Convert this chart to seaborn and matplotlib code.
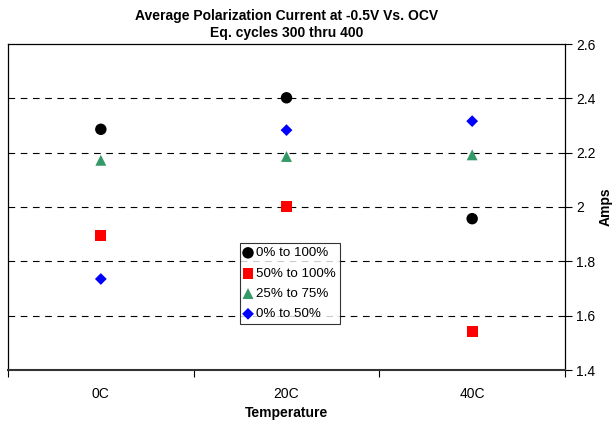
import matplotlib
matplotlib.use("Agg")
import matplotlib.pyplot as plt
import seaborn as sns
import pandas as pd
from matplotlib.ticker import FixedLocator, NullFormatter

# Average polarization current by temperature, per depth-of-discharge range
temperatures = ["0C", "20C", "40C"]
series_names = ["0% to 100%", "50% to 100%", "25% to 75%", "0% to 50%"]
amps_0_100 = [2.286, 2.402, 1.957]
amps_50_100 = [1.896, 2.002, 1.542]
amps_25_75 = [2.172, 2.186, 2.192]
amps_0_50 = [1.735, 2.283, 2.316]

series_values = [amps_0_100, amps_50_100, amps_25_75, amps_0_50]
df = pd.DataFrame(
    [(t, name, v)
     for name, vals in zip(series_names, series_values)
     for t, v in zip(temperatures, vals)],
    columns=["Temperature", "Range", "Amps"],
)

colors = {"0% to 100%": "#000000", "50% to 100%": "#FF0000",
          "25% to 75%": "#339966", "0% to 50%": "#0000FF"}
markers = {"0% to 100%": "o", "50% to 100%": "s",
           "25% to 75%": "^", "0% to 50%": "D"}
sizes = {"0% to 100%": 68, "50% to 100%": 60,
         "25% to 75%": 62, "0% to 50%": 36}

sns.set_style("white")
plt.rcParams["font.family"] = ["Liberation Sans", "DejaVu Sans"]
plt.rcParams.update({"text.color": "black", "axes.labelcolor": "black",
                     "xtick.color": "black", "ytick.color": "black"})

fig = plt.figure(figsize=(6.16, 4.26), dpi=100)
ax = fig.add_axes([8 / 616, 56 / 426, 557 / 616, 326 / 426])

for name in series_names:
    sub = df[df["Range"] == name]
    sns.scatterplot(data=sub, x="Temperature", y="Amps", ax=ax,
                    color=colors[name], marker=markers[name],
                    s=sizes[name], edgecolor="none", label=name, zorder=3)

ax.set_xlim(-0.5, 2.5)
ax.set_ylim(1.4, 2.6)

# y axis on the right, Excel-like
ax.yaxis.tick_right()
ax.set_yticks([1.4, 1.6, 1.8, 2.0, 2.2, 2.4, 2.6])
ax.set_yticklabels(["1.4", "1.6", "1.8", "2", "2.2", "2.4", "2.6"])
ax.tick_params(axis="y", which="major", direction="out", length=5,
               width=0.8, color="black", labelsize=10, pad=3, right=True, left=False)

# x ticks between categories, labels at category centres
ax.xaxis.set_major_locator(FixedLocator([-0.5, 0.5, 1.5, 2.5]))
ax.xaxis.set_major_formatter(NullFormatter())
ax.xaxis.set_minor_locator(FixedLocator([0, 1, 2]))
ax.set_xticklabels(temperatures, minor=True)
ax.tick_params(axis="x", which="major", direction="out", length=5,
               width=0.8, color="black", bottom=True)
ax.tick_params(axis="x", which="minor", length=0, labelsize=10, pad=12)

for y in [1.6, 1.8, 2.0, 2.2, 2.4]:
    ax.axhline(y, color="black", linestyle=(0, (6, 5)), linewidth=0.8, zorder=1)

for sp in ax.spines.values():
    sp.set_visible(True)
    sp.set_color("black")
    sp.set_linewidth(0.9)
ax.spines["bottom"].set_linewidth(1.5)
ax.spines["bottom"].set_color("#333333")

ax.set_xlabel("Temperature", fontsize=10, fontweight="bold", labelpad=4)
ax.set_ylabel("Amps", fontsize=10, fontweight="bold", rotation=90)
ax.yaxis.set_label_position("right")
ax.yaxis.set_label_coords(591 / 557, 0.5)
ax.set_title("Average Polarization Current at -0.5V Vs. OCV\nEq. cycles 300 thru 400",
             fontsize=10, fontweight="bold", pad=5, linespacing=1.3)

leg = ax.legend(loc="upper left", bbox_to_anchor=(232 / 557, 127 / 326),
                borderaxespad=0, frameon=True, fancybox=False, fontsize=9.6,
                handlelength=0.6, handletextpad=0.3, borderpad=0.3,
                labelspacing=0.6, markerscale=1.0)
leg.get_frame().set_edgecolor("black")
leg.get_frame().set_linewidth(0.8)

fig.savefig("out.png", dpi=100)
